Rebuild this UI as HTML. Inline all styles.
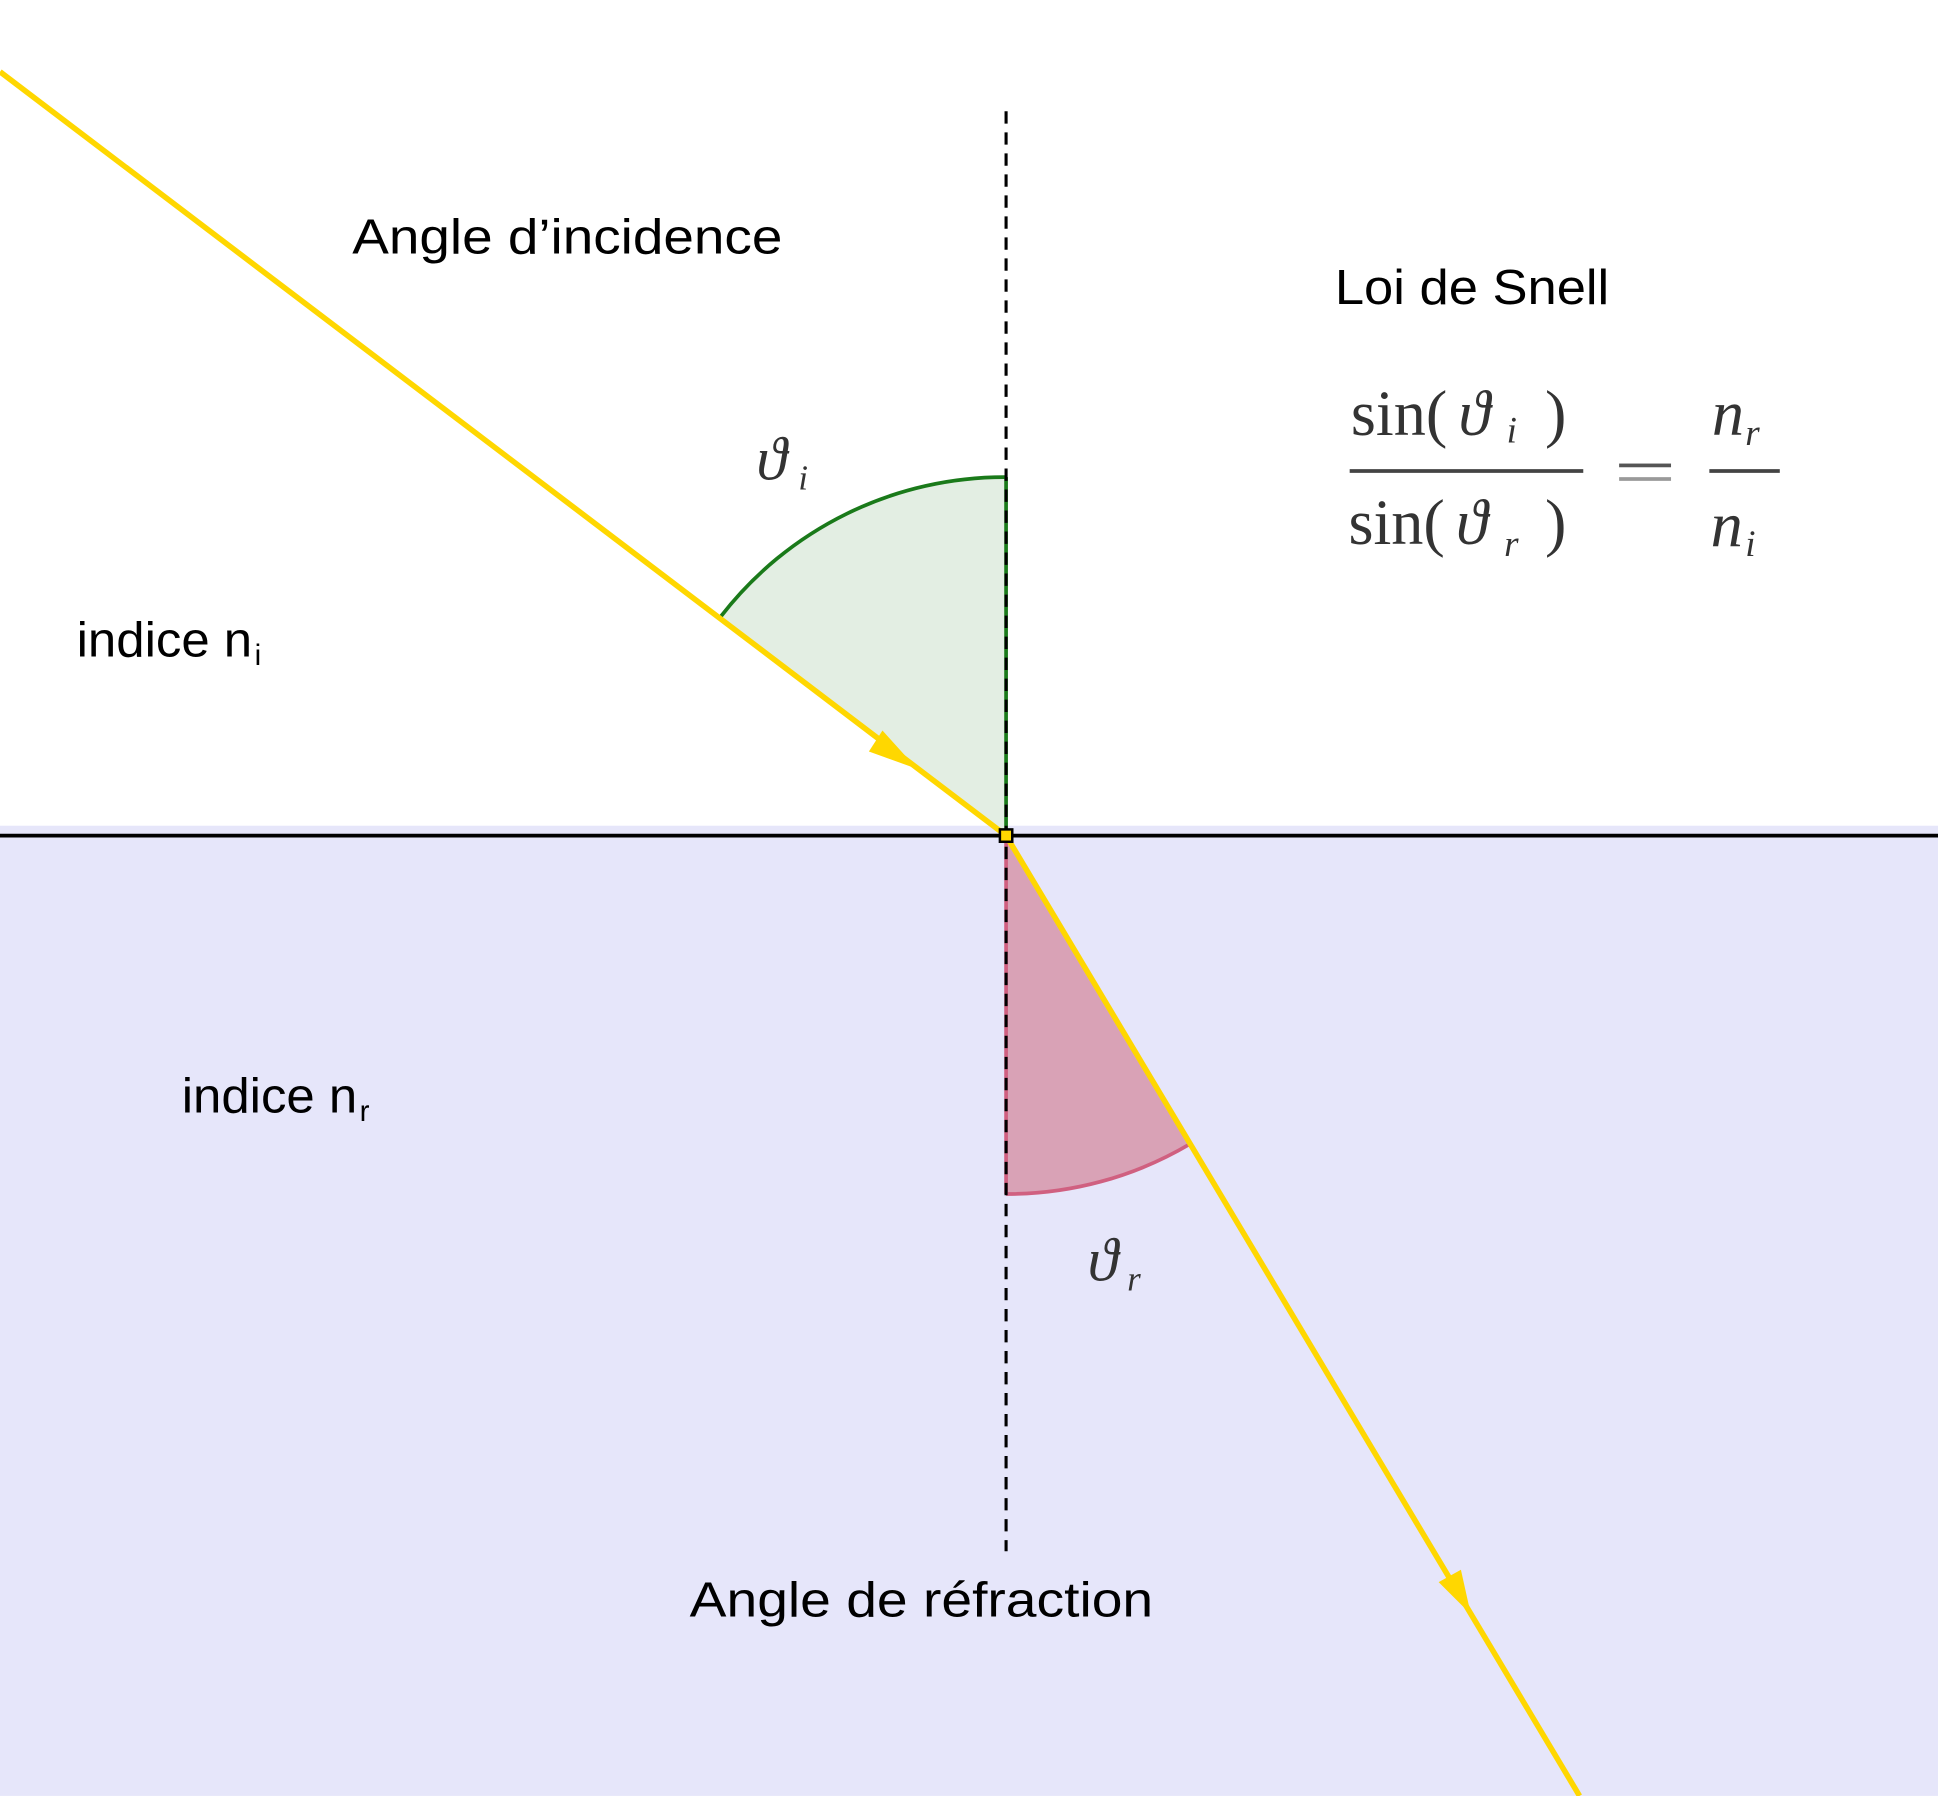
<!DOCTYPE html>
<html><head><meta charset="utf-8"><style>html,body{margin:0;padding:0;background:#fff}svg{display:block}</style></head>
<body>
<svg width="1938" height="1796" viewBox="0 0 1568 1453" xmlns="http://www.w3.org/2000/svg">
<rect x="0" y="0" width="1568" height="1453" fill="#fff"/>
<rect x="0" y="668" width="1568" height="785" fill="#e6e6fa"/>
<path d="M814,676 L814,386 A290,290 0 0 0 583,499 Z" fill="#e3eee3"/>
<path d="M814,386 A290,290 0 0 0 583,499" fill="none" stroke="#1a7a1a" stroke-width="3"/>
<path d="M814,676 L814,966 A290,290 0 0 0 962,926 Z" fill="#d9a2b6"/>
<path d="M814,966 A290,290 0 0 0 962,926" fill="none" stroke="#d06080" stroke-width="3"/>
<line x1="814" y1="386" x2="814" y2="676" stroke="#1a7a1a" stroke-width="3"/>
<line x1="814" y1="676" x2="814" y2="966" stroke="#d06080" stroke-width="3"/>
<line x1="814" y1="90" x2="814" y2="1255" stroke="#000" stroke-width="2.5" stroke-dasharray="10,7"/>
<line x1="0" y1="676" x2="1568" y2="676" stroke="#000" stroke-width="3"/>
<line x1="0" y1="58" x2="814" y2="676" stroke="#ffd700" stroke-width="4.5"/>
<line x1="814" y1="676" x2="1278" y2="1453" stroke="#ffd700" stroke-width="4.5"/>
<polygon points="742,622 703,608 714,591" fill="#ffd700"/>
<polygon points="1190,1306 1164,1280 1182,1270" fill="#ffd700"/>
<rect x="809" y="671" width="10" height="10" fill="#ffd700" stroke="#000" stroke-width="2"/>
<g font-family="Liberation Sans, sans-serif" font-size="40" fill="#000">
<text x="285" y="205" textLength="348" lengthAdjust="spacingAndGlyphs">Angle d’incidence</text>
<text x="1080" y="246" textLength="222" lengthAdjust="spacingAndGlyphs">Loi de Snell</text>
<text x="62" y="531" textLength="142" lengthAdjust="spacingAndGlyphs">indice n</text>
<text x="206" y="538" font-size="24">i</text>
<text x="147" y="900" textLength="142" lengthAdjust="spacingAndGlyphs">indice n</text>
<text x="291" y="907" font-size="24">r</text>
<text x="558" y="1308" textLength="375" lengthAdjust="spacingAndGlyphs">Angle de réfraction</text>
</g>
<g font-family="Liberation Serif, serif" fill="#333">
<text x="612" y="388" font-size="50" font-style="italic">ϑ</text>
<text x="646" y="396" font-size="28" font-style="italic">i</text>
<text x="880" y="1036" font-size="50" font-style="italic">ϑ</text>
<text x="912" y="1044" font-size="28" font-style="italic">r</text>
<text x="1093" y="352" font-size="52">sin(</text>
<text x="1180" y="352" font-size="52" font-style="italic">ϑ</text>
<text x="1219" y="358" font-size="30" font-style="italic">i</text>
<text x="1250" y="352" font-size="52">)</text>
<line x1="1092" y1="381" x2="1281" y2="381" stroke="#444" stroke-width="3"/>
<text x="1091" y="440" font-size="52">sin(</text>
<text x="1178" y="440" font-size="52" font-style="italic">ϑ</text>
<text x="1217" y="450" font-size="30" font-style="italic">r</text>
<text x="1250" y="440" font-size="52">)</text>
<rect x="1310" y="375" width="42" height="3" fill="#555"/>
<rect x="1310" y="386" width="42" height="3" fill="#999"/>
<text x="1385" y="352" font-size="52" font-style="italic">n</text>
<text x="1412" y="360" font-size="30" font-style="italic">r</text>
<line x1="1383" y1="381" x2="1440" y2="381" stroke="#444" stroke-width="3"/>
<text x="1384" y="442" font-size="52" font-style="italic">n</text>
<text x="1412" y="450" font-size="30" font-style="italic">i</text>
</g>
</svg>
</body></html>
